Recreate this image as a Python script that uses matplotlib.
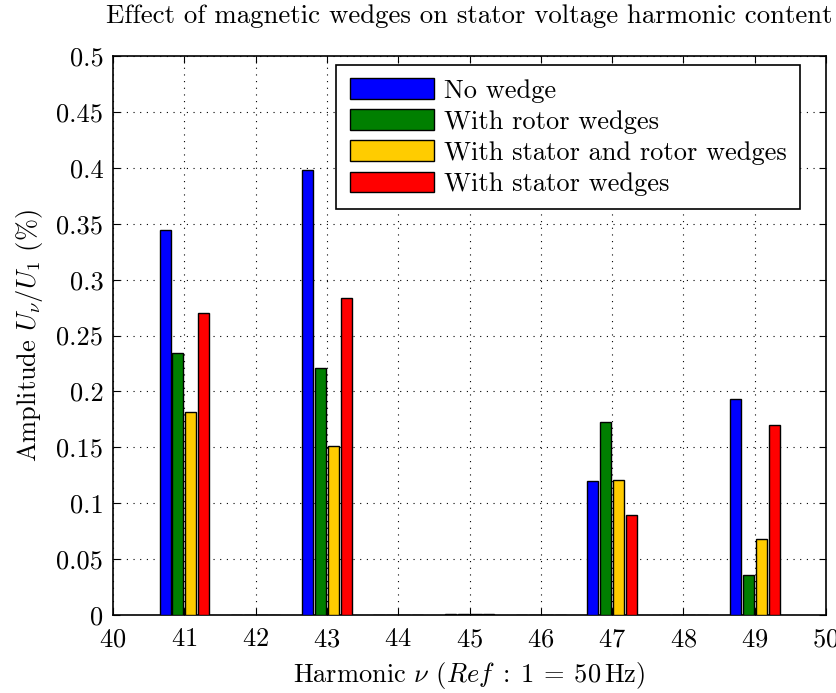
import numpy as np
import matplotlib
matplotlib.use("Agg")
import matplotlib.pyplot as plt

# Data
harmonics = [41, 42, 43, 44, 45, 46, 47, 48, 49]
no_wedge = [0.344, 0, 0.398, 0, 0.001, 0, 0.120, 0, 0.193]
rotor_wedges = [0.234, 0, 0.221, 0, 0.001, 0, 0.173, 0, 0.036]
stator_rotor_wedges = [0.182, 0, 0.151, 0, 0.001, 0, 0.121, 0, 0.068]
stator_wedges = [0.270, 0, 0.284, 0, 0.001, 0, 0.089, 0, 0.170]

labels = ['No wedge', 'With rotor wedges', 'With stator and rotor wedges', 'With stator wedges']
colors = ['#0000ff', '#007f00', '#ffcc00', '#ff0000']

plt.rcParams['font.family'] = 'serif'
plt.rcParams['font.serif'] = ['cmr10']
plt.rcParams['mathtext.fontset'] = 'cm'
plt.rcParams['axes.formatter.use_mathtext'] = True
plt.rcParams['axes.unicode_minus'] = False

fs = 19

fig = plt.figure(figsize=(8.37, 6.93), dpi=100)
ax = fig.add_axes([0.135, 0.1126, 0.852, 0.8064])

series = [no_wedge, rotor_wedges, stator_rotor_wedges, stator_wedges]
x = np.array(harmonics)
offsets = [-0.27, -0.09, 0.09, 0.27]
width = 0.155
for vals, off, c, lab in zip(series, offsets, colors, labels):
    ax.bar(x + off, vals, width, color=c, edgecolor='k', linewidth=1.0, label=lab, zorder=3)

ax.set_xlim(40, 50)
ax.set_ylim(0, 0.5)
ax.set_xticks(np.arange(40, 51, 1))
ax.set_yticks(np.arange(0, 0.51, 0.05))
ax.set_yticklabels(['0', '0.05', '0.1', '0.15', '0.2', '0.25', '0.3', '0.35', '0.4', '0.45', '0.5'])
ax.grid(True, color='k', linestyle=(0, (1, 5)), linewidth=0.8, zorder=0)
ax.tick_params(direction='in', top=True, right=True, labelsize=fs, length=5)
ax.tick_params(axis='x', pad=9)
ax.tick_params(axis='y', pad=7)
for s in ax.spines.values():
    s.set_linewidth(1.2)

ax.set_xlabel(r'Harmonic $\nu$ $(Ref\;:\;1\:=\:50\,\mathrm{Hz})$', fontsize=fs, labelpad=6)
ax.set_ylabel(r'Amplitude $U_\nu/U_1$ (%)', fontsize=fs, labelpad=8)
ax.set_title('Effect of magnetic wedges on stator voltage harmonic content', fontsize=19.3, pad=24)

leg = ax.legend(loc='upper right', bbox_to_anchor=(0.9635, 0.984), fontsize=fs, fancybox=False,
                edgecolor='k', framealpha=1, handlelength=3.2, handleheight=0.83,
                borderpad=0.5, labelspacing=0.25, handletextpad=0.38, borderaxespad=0)
leg.get_frame().set_linewidth(1.2)

plt.savefig('out.png', dpi=100)
